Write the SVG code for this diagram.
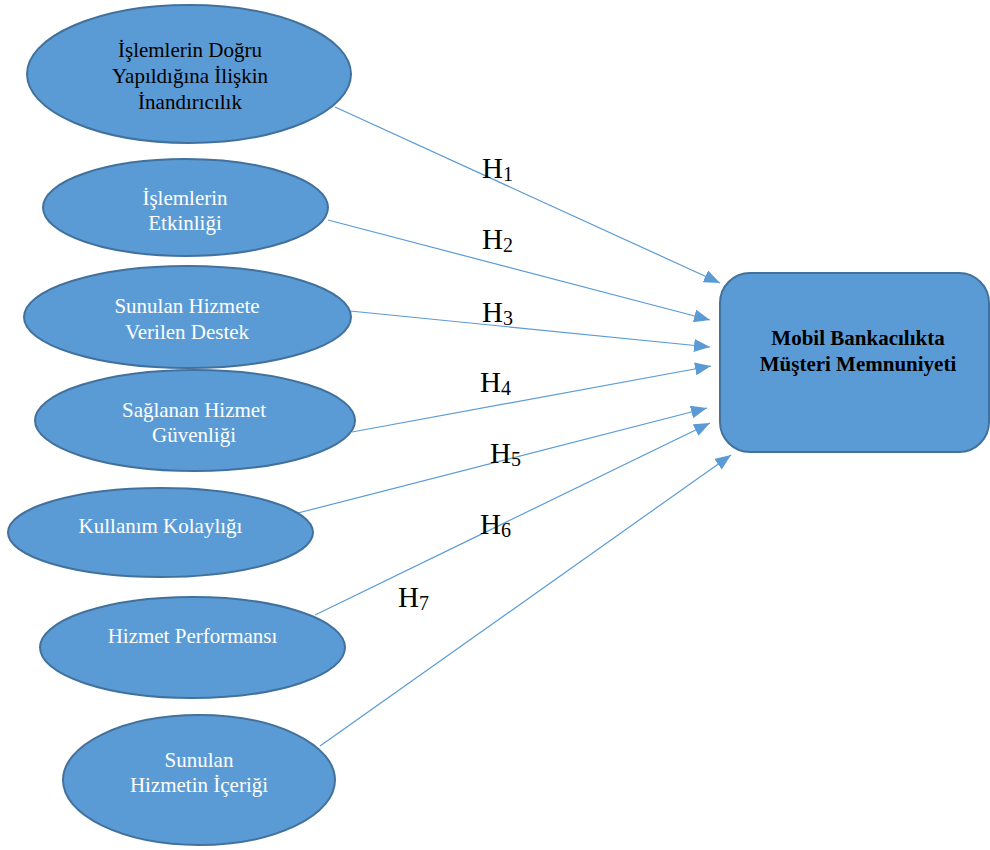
<svg xmlns="http://www.w3.org/2000/svg" width="990" height="850" viewBox="0 0 990 850">
<defs>
<marker id="arr" markerUnits="userSpaceOnUse" markerWidth="17" markerHeight="13" refX="16" refY="6.5" orient="auto">
<path d="M0,0 L16,6.5 L0,13 z" fill="#5B9BD5"/>
</marker>
<style>
.node{fill:#5B9BD5;stroke:#41719C;stroke-width:2}
.t{font-family:"Liberation Serif","Times New Roman",serif;font-size:21px;fill:#FFFFFF;text-anchor:middle}
.tb{font-family:"Liberation Serif","Times New Roman",serif;font-size:21px;fill:#000000;text-anchor:middle}
.bold{font-weight:bold}
.lab{font-family:"Liberation Serif","Times New Roman",serif;font-size:29px;fill:#000000}
.sub{font-size:20px}
.c{stroke:#5B9BD5;stroke-width:1.2;fill:none;marker-end:url(#arr)}
</style>
</defs>
<rect width="990" height="850" fill="#FFFFFF"/>
<g id="connectors">
<line class="c" x1="335" y1="107" x2="720" y2="283"/>
<line class="c" x1="328" y1="220" x2="710" y2="320"/>
<line class="c" x1="350" y1="311" x2="710" y2="347"/>
<line class="c" x1="352" y1="432" x2="711" y2="366"/>
<line class="c" x1="298" y1="513" x2="707" y2="408"/>
<line class="c" x1="315" y1="615" x2="710" y2="423"/>
<line class="c" x1="320" y1="746" x2="731" y2="455"/>
</g>
<g id="labels">
<text class="lab" x="482" y="178">H<tspan class="sub" dy="3">1</tspan></text>
<text class="lab" x="482" y="249">H<tspan class="sub" dy="3">2</tspan></text>
<text class="lab" x="482" y="322">H<tspan class="sub" dy="3">3</tspan></text>
<text class="lab" x="480" y="392">H<tspan class="sub" dy="3">4</tspan></text>
<text class="lab" x="490" y="463">H<tspan class="sub" dy="3">5</tspan></text>
<text class="lab" x="480" y="534">H<tspan class="sub" dy="3">6</tspan></text>
<text class="lab" x="398" y="607">H<tspan class="sub" dy="3">7</tspan></text>
</g>
<g id="n1">
<ellipse class="node" cx="189" cy="74" rx="162" ry="69"/>
<text class="tb" x="190" y="57">İşlemlerin Doğru</text>
<text class="tb" x="190" y="83">Yapıldığına İlişkin</text>
<text class="tb" x="190" y="109">İnandırıcılık</text>
</g>
<g id="n2">
<ellipse class="node" cx="185.5" cy="207.5" rx="142.5" ry="48.5"/>
<text class="t" x="185" y="205">İşlemlerin</text>
<text class="t" x="185" y="230">Etkinliği</text>
</g>
<g id="n3">
<ellipse class="node" cx="187.5" cy="317" rx="163.5" ry="51"/>
<text class="t" x="187" y="313">Sunulan Hizmete</text>
<text class="t" x="187" y="339">Verilen Destek</text>
</g>
<g id="n4">
<ellipse class="node" cx="195" cy="420.5" rx="160" ry="50.5"/>
<text class="t" x="194" y="417">Sağlanan Hizmet</text>
<text class="t" x="194" y="442">Güvenliği</text>
</g>
<g id="n5">
<ellipse class="node" cx="160.5" cy="532.5" rx="152.5" ry="44.5"/>
<text class="t" x="160.5" y="533">Kullanım Kolaylığı</text>
</g>
<g id="n6">
<ellipse class="node" cx="192.5" cy="647.5" rx="152.5" ry="50.5"/>
<text class="t" x="192.5" y="643">Hizmet Performansı</text>
</g>
<g id="n7">
<ellipse class="node" cx="199" cy="780" rx="136" ry="65"/>
<text class="t" x="199" y="767">Sunulan</text>
<text class="t" x="199" y="792">Hizmetin İçeriği</text>
</g>
<g id="target">
<rect class="node" x="720" y="273" width="269" height="179" rx="30" ry="30"/>
<text class="tb bold" x="858" y="345">Mobil Bankacılıkta</text>
<text class="tb bold" x="858" y="371">Müşteri Memnuniyeti</text>
</g>
</svg>
